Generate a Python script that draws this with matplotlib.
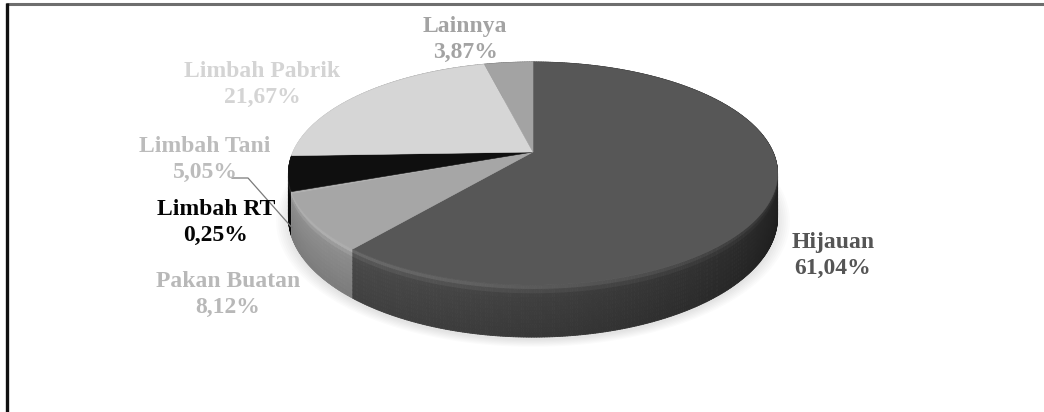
import numpy as np
import matplotlib
matplotlib.use('Agg')
import matplotlib.pyplot as plt
from matplotlib.collections import PolyCollection
from matplotlib.patches import Polygon
from matplotlib.colors import to_rgb

# komposisi pakan (persen), searah jarum jam dari atas
categories = ['Hijauan', 'Pakan Buatan', 'Limbah RT', 'Limbah Tani', 'Limbah Pabrik', 'Lainnya']
shares = [61.04, 8.12, 0.25, 5.05, 21.67, 3.87]

slice_colors = ['#575757', '#a6a6a6', '#b0b0b0', '#0f0f0f', '#d6d6d6', '#a3a3a3']
label_colors = ['#555555', '#b8b8b8', '#050505', '#bcbcbc', '#d4d4d4', '#a3a3a3']
# baseline of the first label line, pixels
label_xy = [(833, 248), (228, 287), (216, 215), (205, 152), (262, 77), (465, 32)]
line_gap = 26

plt.rcParams['font.family'] = ['Liberation Serif', 'DejaVu Serif']

W, Hpx = 1044, 412
fig = plt.figure(figsize=(W / 100, Hpx / 100), dpi=100)
ax = fig.add_axes([0, 0, 1, 1])
ax.set_xlim(0, W)
ax.set_ylim(Hpx, 0)
ax.axis('off')

# 3d pie geometry (screen pixels), simple perspective tilt
CX, CY = 533, 152
A, B, P, DEPTH = 240, 107.4, 0.193, 42


def project(phi, t=0.0, grow=1.0):
    r = np.radians(phi)
    w = 1 + P * np.cos(r)
    x = CX + grow * A * np.sin(r) / w
    y = CY - grow * B * np.cos(r) / w + t * DEPTH / w
    return x, y


edges = np.concatenate([[0], np.cumsum(shares)]) * 360 / np.sum(shares)

# soft shadow under the pie
phis = np.linspace(0, 360, 361)
for g in np.linspace(1.0, 1.05, 7):
    xs, ys = project(phis, 1.0, g)
    ax.add_patch(Polygon(np.column_stack([xs, ys + 3]), closed=True,
                         facecolor='#808080', edgecolor='none', alpha=0.03, zorder=1))

# side walls, drawn far to near
nb = 12
segs = []
for i, (a0, a1) in enumerate(zip(edges[:-1], edges[1:])):
    base = np.array(to_rgb(slice_colors[i]))
    n = max(2, int(np.ceil((a1 - a0) / 0.5)))
    ph = np.linspace(a0, a1, n + 1)
    for p0, p1 in zip(ph[:-1], ph[1:]):
        pm = (p0 + p1) / 2
        f = 0.58 + 0.3 * np.cos(np.radians(pm - 235))
        for k in range(nb):
            t0, t1 = k / nb, (k + 1) / nb
            tm = (t0 + t1) / 2
            quad = [project(p0, t0), project(p1, t0), project(p1, t1), project(p0, t1)]
            hl = 0.13 * np.exp(-((tm - 0.04) / 0.09) ** 2)
            rgb = np.clip(base * f * (1.0 - 0.15 * tm) + hl * f, 0, 1)
            segs.append((np.cos(np.radians(pm)), quad, rgb))

segs.sort(key=lambda s: -s[0])
wall = PolyCollection([s[1] for s in segs], facecolors=[s[2] for s in segs],
                      edgecolors=[s[2] for s in segs], linewidths=0.6, zorder=2)
ax.add_collection(wall)

# top faces
for i, (a0, a1) in enumerate(zip(edges[:-1], edges[1:])):
    ph = np.linspace(a0, a1, max(3, int((a1 - a0) * 2)))
    xs, ys = project(ph)
    pts = np.vstack([[CX, CY], np.column_stack([xs, ys])])
    ax.add_patch(Polygon(pts, closed=True, facecolor=slice_colors[i],
                         edgecolor=slice_colors[i], linewidth=0.4, zorder=3))

# labels
for name, val, col, (lx, ly) in zip(categories, shares, label_colors, label_xy):
    txt = f'{val:.2f}%'.replace('.', ',')
    ax.text(lx, ly, name, color=col, fontsize=17, fontweight='bold',
            ha='center', va='baseline', zorder=5)
    ax.text(lx, ly + line_gap, txt, color=col, fontsize=17, fontweight='bold',
            ha='center', va='baseline', zorder=5)

# leader line from the 5,05% label to the thin slice
rt = categories.index('Limbah RT')
tip = project((edges[rt] + edges[rt + 1]) / 2, 0.78)
ax.plot([232, 248, tip[0]], [178, 178, tip[1]], color='#7a7a7a', lw=0.9, zorder=4)

# frame
ax.plot([6, W], [4, 4], color='#6e6e6e', lw=2.2, solid_capstyle='butt', zorder=6)
ax.plot([7, 7], [3, Hpx], color='#111111', lw=2.4, solid_capstyle='butt', zorder=6)

fig.savefig('out.png', dpi=100)
